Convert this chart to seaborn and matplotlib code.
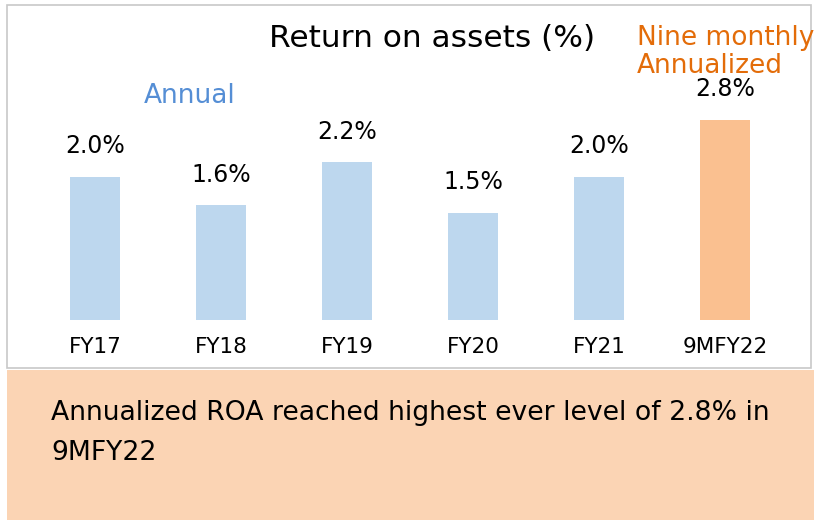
import matplotlib
matplotlib.use("Agg")
import matplotlib.pyplot as plt
import pandas as pd
import seaborn as sns
from matplotlib.patches import Rectangle

# Return on assets by period
periods = ["FY17", "FY18", "FY19", "FY20", "FY21", "9MFY22"]
roa = [2.0, 1.6, 2.2, 1.5, 2.0, 2.8]
bar_colors = ["#BDD7EE"] * 5 + ["#FAC090"]

title = "Return on assets (%)"
annual_label = "Annual"
nine_month_label = ["Nine monthly", "Annualized"]
takeaway = ["Annualized ROA reached highest ever level of 2.8% in", "9MFY22"]

df = pd.DataFrame({"Period": periods, "ROA": roa})

sns.set_style("white")
plt.rcParams["font.family"] = ["DejaVu Sans"]
plt.rcParams["text.color"] = "black"
plt.rcParams["xtick.color"] = "black"

W, H = 814, 520
fig = plt.figure(figsize=(W / 100, H / 100), dpi=100)

# white chart panel with thin grey border, peach takeaway box below
fig.patches.append(Rectangle((7 / W, (H - 368) / H), 804 / W, 363 / H,
                             transform=fig.transFigure, facecolor="white",
                             edgecolor="#C8C8C8", linewidth=1.2, zorder=-2))
fig.patches.append(Rectangle((7 / W, 0), (W - 7) / W, (H - 370) / H,
                             transform=fig.transFigure, facecolor="#FBD4B4",
                             edgecolor="none", zorder=-2))

ax = fig.add_axes([32 / W, 200 / H, 756 / W, 315 / H])
ax.patch.set_alpha(0)

sns.barplot(data=df, x="Period", y="ROA", hue="Period", palette=bar_colors,
            width=0.4, legend=False, ax=ax, saturation=1, linewidth=0)

for i, v in enumerate(roa):
    ax.annotate(f"{v:.1f}%", xy=(i, v), xytext=(0, 17), textcoords="offset points",
                ha="center", va="baseline", fontsize=17, color="black")

ax.set_ylim(0, 4.4)
ax.set_xlim(-0.5, 5.5)
ax.set_yticks([])
ax.set_xlabel("")
ax.set_ylabel("")
ax.tick_params(axis="x", length=0, pad=12, labelsize=15.5, labelcolor="black")
sns.despine(ax=ax, left=True, bottom=True)

fig.text(432 / W, (H - 47) / H, title, ha="center", va="baseline", fontsize=22.5)
fig.text(190 / W, (H - 103) / H, annual_label, ha="center", va="baseline",
         fontsize=19, color="#558ED5")
fig.text(637 / W, (H - 45) / H, nine_month_label[0], ha="left", va="baseline",
         fontsize=19, color="#E36C09")
fig.text(637 / W, (H - 73) / H, nine_month_label[1], ha="left", va="baseline",
         fontsize=19, color="#E36C09")

fig.text(51 / W, (H - 420) / H, takeaway[0], ha="left", va="baseline", fontsize=19.2)
fig.text(51 / W, (H - 460) / H, takeaway[1], ha="left", va="baseline", fontsize=19.2)

fig.savefig("out.png", dpi=100)
